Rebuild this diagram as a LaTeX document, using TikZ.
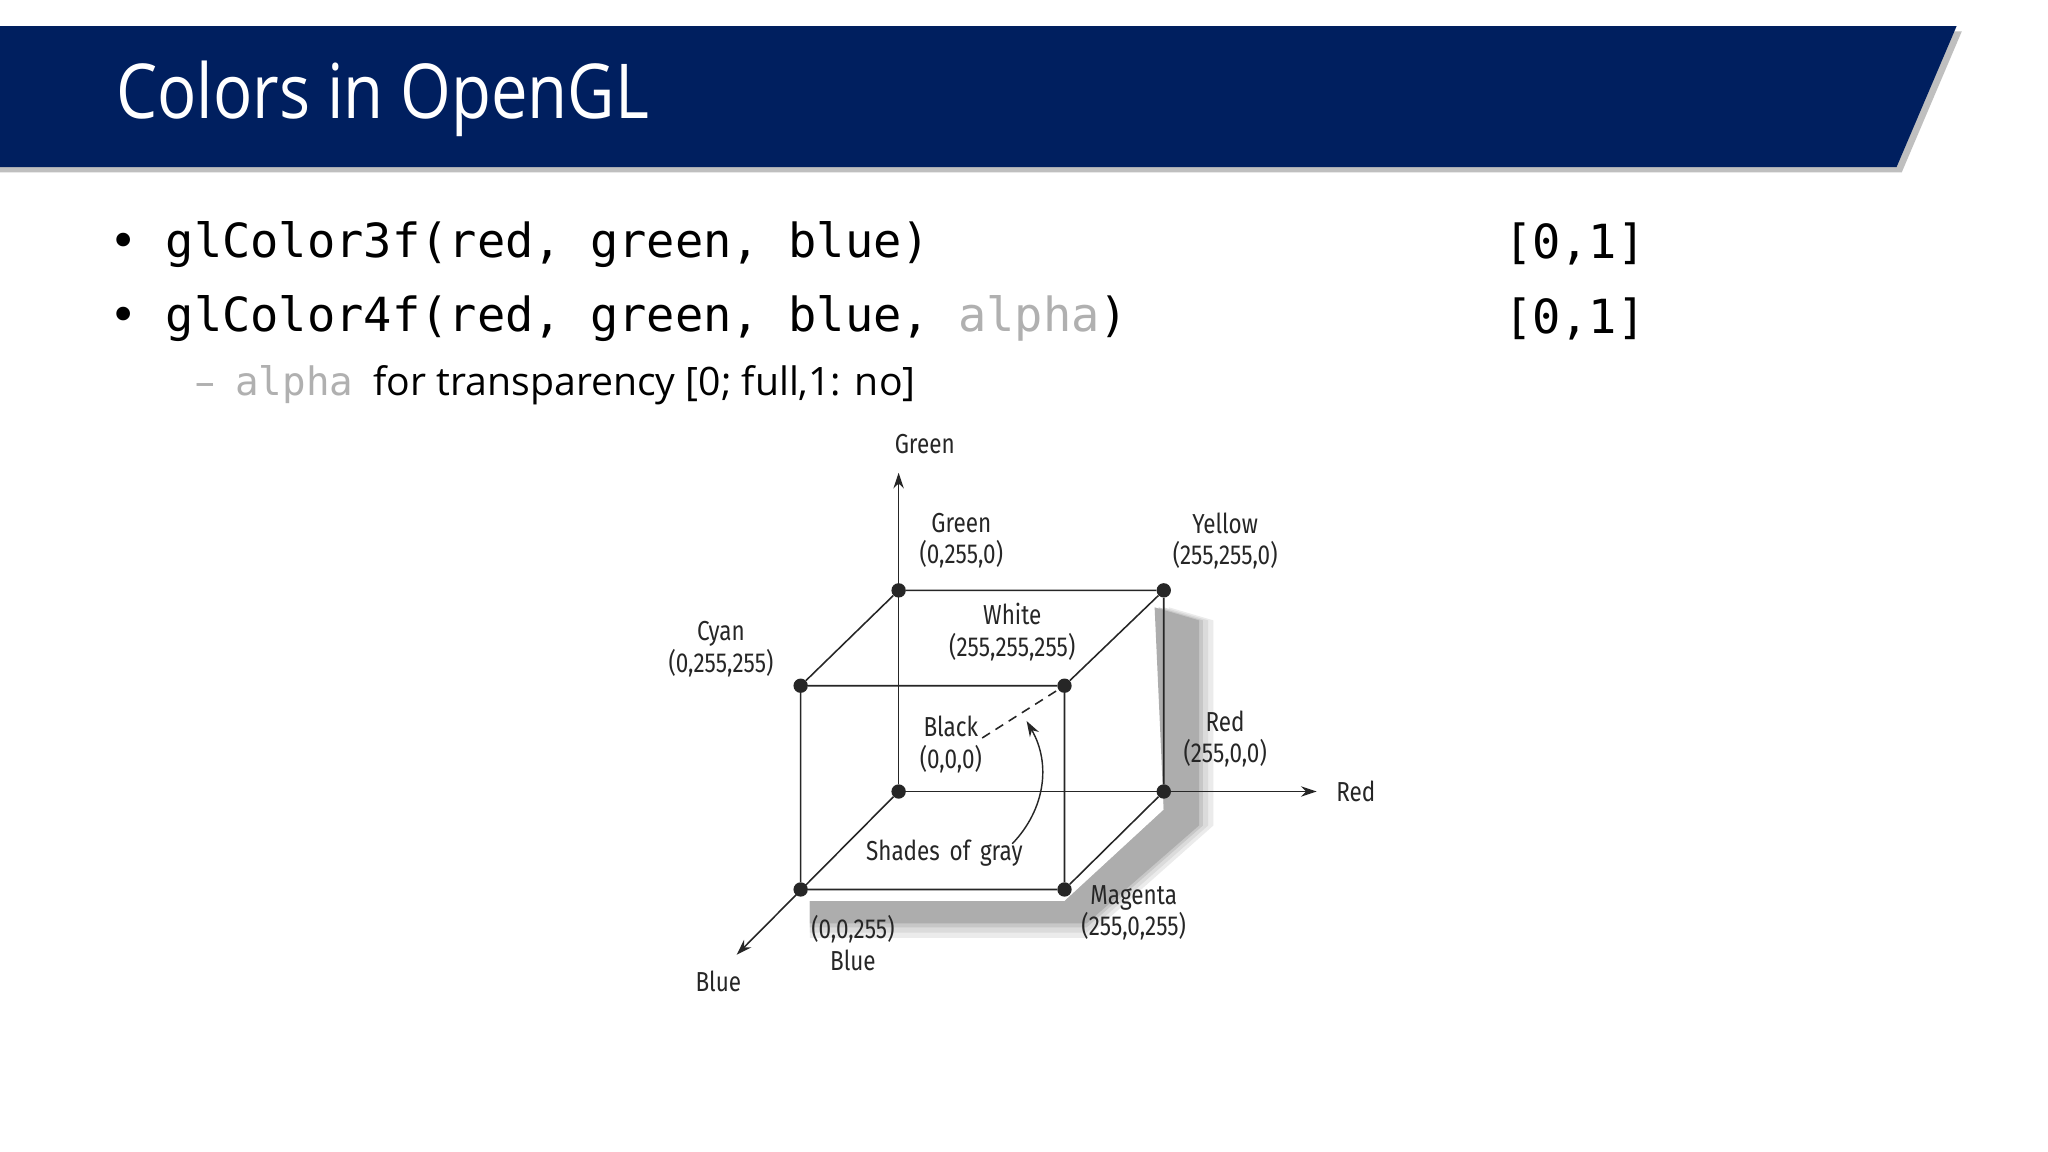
\documentclass[tikz,border=0pt]{standalone}
\usepackage{fontspec}
\setmainfont{Open Sans}
\newfontfamily\monof{DejaVu Sans Mono}
\newfontfamily\labf{Fira Sans}
\usetikzlibrary{arrows.meta}
\definecolor{navy}{HTML}{001F5F}
\definecolor{lgray}{HTML}{B0B0B0}
\begin{document}
\begin{tikzpicture}[x=1pt,y=-1pt,
  lab/.style={font=\labf\fontsize{21}{24}\selectfont, xscale=0.82, align=center, text=black!85},
  dot/.style={circle,fill=black!85,inner sep=0pt,minimum size=11pt},
  edge/.style={line width=1.2pt, black!85},
  ax/.style={line width=1.2pt, black!85, -{Stealth[length=12pt,width=8pt]}}]
\useasboundingbox (0,0) rectangle (1568,882);
\fill[white] (0,0) rectangle (1568,882);
% title bar
\fill[black!25] (0,24) -- (1502,24) -- (1456,132) -- (0,132) -- cycle;
\fill[navy] (0,20) -- (1498,20) -- (1452,128) -- (0,128) -- cycle;
\node[anchor=west, text=white, font=\fontsize{58}{60}\selectfont, xscale=0.86] (title) at (86,76) {Colors in OpenGL};
% bullets
\node[anchor=west, font=\monof\fontsize{36}{40}\selectfont] (b1) at (80,187) {•\ glColor3f(red, green, blue)};
\node[anchor=west, font=\monof\fontsize{36}{40}\selectfont] (b2) at (80,244) {•\ glColor4f(red, green, blue, \textcolor{lgray}{alpha})};
\node[anchor=west, font=\monof\fontsize{36}{40}\selectfont] (r1) at (1148,187) {[0,1]};
\node[anchor=west, font=\monof\fontsize{36}{40}\selectfont] (r2) at (1148,244) {[0,1]};
\node[anchor=west, font=\fontsize{30}{34}\selectfont] (sub) at (146,295) {\textcolor{lgray}{–}\ \ {\monof\textcolor{lgray}{alpha}}\ \ for transparency [0; full,1: no]};
% shadow
\foreach \o/\s in {14/8,10/14,6/22,3/32}{
  \fill[black!\s] (891+\o-10,465) -- (925+\o-10,475) -- (925+\o-10,632) -- (832,712+\o-8) -- (620,712+\o-8) -- (620,690) -- (815,690) -- (891,620) -- cycle;}
% vertices
\coordinate (O) at (688,606);
\node[dot] (K) at (688,606) {};
\node[dot] (G) at (688,452) {};
\node[dot] (Y) at (891,452) {};
\node[dot] (R) at (891,606) {};
\node[dot] (C) at (613,525) {};
\node[dot] (W) at (815,525) {};
\node[dot] (B) at (613,681) {};
\node[dot] (M) at (815,681) {};
\coordinate (gA) at (688,362);
\coordinate (rA) at (1008,606);
\coordinate (bA) at (564,731);
\draw[ax] (K) -- (gA);
\draw[ax] (K) -- (rA);
\draw[ax] (K) -- (bA);
\draw[edge] (G)--(Y) (Y)--(R) (G)--(C) (Y)--(W) (C)--(W) (C)--(B) (W)--(M) (B)--(M) (M)--(R);
\draw[edge, dashed, dash pattern=on 7pt off 5pt] (752,565) -- (W);
\coordinate (s0) at (775,646);
\coordinate (s1) at (786,552);
\draw[line width=1.1pt, black!85, -{Stealth[length=12pt,width=8pt]}] (s0) .. controls (800,620) and (805,585) .. (s1);
% labels
\node[lab] (lG) at (708,340) {Green};
\node[lab] (lg) at (736,414) {Green\\(0,255,0)};
\node[lab] (ly) at (938,414) {Yellow\\(255,255,0)};
\node[lab] (lw) at (775,484) {White\\(255,255,255)};
\node[lab] (lc) at (552,497) {Cyan\\(0,255,255)};
\node[lab] (lk) at (728,570) {Black\\(0,0,0)};
\node[lab] (lr) at (938,566) {Red\\(255,0,0)};
\node[lab] (lR) at (1038,606) {Red};
\node[lab] (ls) at (723,653) {Shades\,\ of\,\ gray};
\node[lab] (lm) at (868,699) {Magenta\\(255,0,255)};
\node[lab] (lb) at (653,722) {(0,0,255)\\Blue};
\node[lab] (lB) at (550,751) {Blue};
\end{tikzpicture}
\end{document}
